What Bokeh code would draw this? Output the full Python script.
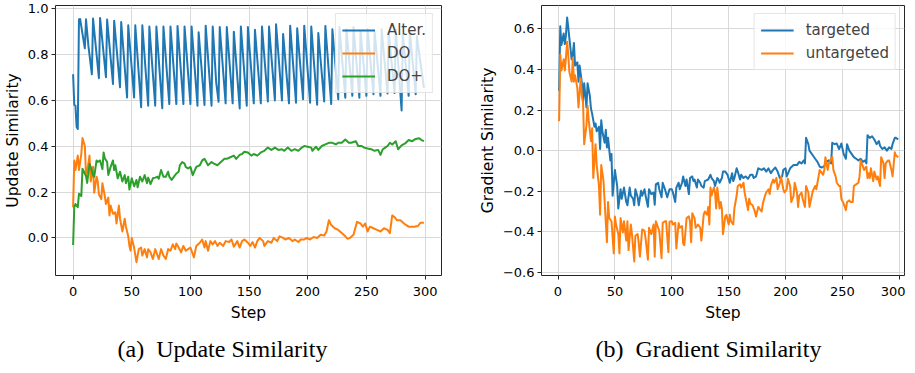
from bokeh.plotting import figure
from bokeh.models import Range1d, FixedTicker, Title, CustomJSTickFormatter
from bokeh.layouts import row
from bokeh.embed import file_html
from bokeh.resources import INLINE

# ---------------- (a) Update Similarity ----------------
alter_steps = [0, 1, 2, 3, 4, 5, 6, 8, 10, 11, 13, 16, 17, 22, 23, 28, 29, 34, 35, 40, 41,
               46, 47, 52, 53, 58, 59, 64, 65, 70, 71, 76, 77, 82, 83, 88, 89, 94, 95,
               100, 101, 106, 107, 112, 113, 118, 119, 122, 124, 125, 130, 131, 136, 137,
               142, 143, 148, 149, 154, 155, 160, 161, 166, 167, 172, 173, 178, 179,
               184, 185, 190, 191, 196, 197, 202, 203, 208, 209, 214, 215, 220, 221,
               226, 227, 232, 233, 238, 239, 244, 245, 250, 251, 256, 257, 262, 263,
               268, 269, 274, 275, 280, 281, 286, 287, 292, 293, 299]
alter_vals = [0.714, 0.58, 0.577, 0.484, 0.475, 0.953, 0.955, 0.89, 0.827, 0.954, 0.84, 0.714,
              0.957, 0.697, 0.96, 0.701, 0.953, 0.672, 0.948, 0.657, 0.942,
              0.613, 0.928, 0.613, 0.928, 0.57, 0.928, 0.577, 0.922, 0.577, 0.922,
              0.566, 0.922, 0.584, 0.922, 0.584, 0.925, 0.584, 0.922,
              0.584, 0.922, 0.577, 0.897, 0.58, 0.926, 0.577, 0.922, 0.676, 0.594, 0.92,
              0.587, 0.92, 0.587, 0.9, 0.565, 0.922, 0.577, 0.92, 0.587, 0.908,
              0.587, 0.922, 0.595, 0.922, 0.6, 0.932, 0.6, 0.89, 0.587, 0.926,
              0.59, 0.915, 0.605, 0.926, 0.59, 0.922, 0.581, 0.894, 0.595, 0.925,
              0.584, 0.91, 0.605, 0.92, 0.612, 0.91, 0.62, 0.92, 0.612, 0.9,
              0.62, 0.91, 0.627, 0.9, 0.62, 0.91, 0.63, 0.9, 0.632, 0.91,
              0.556, 0.89, 0.62, 0.9, 0.627, 0.88, 0.655]

do_steps = [0, 1, 2, 4, 5, 7, 8, 10, 11, 12, 14, 15, 17, 18, 20, 21, 22, 24, 25, 27, 28, 30,
            31, 32, 34, 36, 37, 39, 40, 42, 44, 45, 47, 48, 49, 50, 52, 54, 56, 58, 59,
            61, 63, 64, 66, 68, 70, 71, 73, 75, 77, 79, 81, 83, 85, 87, 88, 90, 92, 94,
            96, 98, 100, 103, 105, 108, 110, 112, 113, 115, 117, 119, 121, 123, 125,
            128, 130, 133, 135, 137, 140, 142, 144, 146, 149, 151, 153, 155, 157, 159,
            162, 163, 166, 169, 171, 174, 176, 179, 181, 184, 187, 189, 192, 194, 197,
            199, 202, 205, 208, 211, 214, 216, 218, 220, 223, 226, 229, 232, 234, 236,
            239, 242, 245, 247, 249, 251, 253, 256, 259, 262, 265, 268, 270, 272, 274,
            276, 279, 282, 284, 286, 288, 291, 294, 296, 299]
do_vals = [0.134, 0.338, 0.296, 0.359, 0.296, 0.366, 0.436, 0.401, 0.274, 0.289, 0.359, 0.246,
           0.31, 0.197, 0.267, 0.246, 0.19, 0.169, 0.239, 0.183, 0.148, 0.176,
           0.098, 0.141, 0.105, 0.112, 0.063, 0.141, 0.084, 0.028, 0.084, 0.049, 0.007,
           -0.035, -0.056, 0.0, -0.042, -0.106, -0.049, -0.042, -0.077,
           -0.049, -0.085, -0.049, -0.063, -0.092, -0.049, -0.063, -0.092, -0.049,
           -0.077, -0.092, -0.049, -0.056, -0.028, -0.049, -0.024, -0.042, -0.063, -0.035,
           -0.056, -0.049, -0.042, -0.085, -0.035, -0.021, -0.007, -0.042, -0.014, -0.056,
           -0.014, -0.028, -0.014, -0.035, -0.021,
           -0.035, -0.014, -0.018, -0.007, -0.038, -0.014, -0.042, -0.014, -0.007, -0.021,
           -0.035, -0.018, -0.042, -0.014, 0.0,
           -0.014, -0.035, -0.014, -0.021, 0.0, -0.014, 0.007, 0.0, -0.007, 0.0,
           -0.014, -0.007, -0.018, -0.007, -0.007,
           0.0, -0.007, 0.004, 0.0, 0.014, 0.01, 0.028, 0.077, 0.056, 0.042, 0.035,
           0.021, 0.007, -0.004, 0.0,
           0.014, 0.07, 0.063, 0.049, 0.063, 0.028, 0.049, 0.042, 0.035, 0.028, 0.042,
           0.035, 0.021, 0.098, 0.091,
           0.077, 0.077, 0.063, 0.056, 0.049, 0.049, 0.049, 0.052, 0.066, 0.066]

doplus_steps = [0, 1, 2, 4, 5, 7, 8, 10, 11, 12, 14, 15, 17, 18, 20, 21, 23, 25, 26, 27, 29,
                30, 32, 34, 35, 36, 38, 40, 42, 44, 45, 47, 48, 50, 52, 54, 55, 57, 59,
                61, 63, 64, 66, 68, 70, 72, 73, 75, 77, 79, 81, 82, 84, 86, 88, 90, 91,
                93, 95, 96, 98, 100, 102, 105, 108, 110, 112, 115, 118, 120, 123, 126,
                129, 131, 134, 137, 139, 142, 144, 146, 149, 152, 154, 157, 160, 163,
                166, 169, 172, 175, 178, 180, 183, 186, 189, 192, 195, 197, 200, 203,
                204, 207, 209, 212, 215, 218, 221, 224, 226, 229, 232, 235, 237, 241,
                243, 246, 248, 251, 254, 257, 260, 262, 264, 266, 268, 270, 272, 275,
                277, 280, 283, 286, 289, 292, 295, 297, 299]
doplus_vals = [-0.031, 0.134, 0.148, 0.134, 0.193, 0.183, 0.302, 0.28, 0.27, 0.24, 0.323,
               0.31, 0.275, 0.267, 0.338, 0.331, 0.338, 0.30, 0.373, 0.348, 0.331,
               0.275, 0.31, 0.338, 0.296, 0.317, 0.26, 0.289, 0.246, 0.274, 0.239,
               0.267, 0.211, 0.26, 0.225, 0.253, 0.221, 0.267, 0.246,
               0.274, 0.239, 0.263, 0.235, 0.26, 0.263, 0.267, 0.258, 0.296, 0.267,
               0.267, 0.289, 0.267, 0.253, 0.267, 0.281, 0.289, 0.317,
               0.331, 0.324, 0.31, 0.303, 0.31, 0.274, 0.31, 0.317, 0.338, 0.345,
               0.317, 0.331, 0.324, 0.317, 0.331,
               0.345, 0.345, 0.352, 0.359, 0.345, 0.362, 0.366, 0.376, 0.373, 0.359,
               0.366, 0.359, 0.373, 0.38,
               0.394, 0.384, 0.394, 0.384, 0.387, 0.38, 0.394, 0.38, 0.387, 0.38,
               0.394, 0.401, 0.398, 0.394,
               0.38, 0.398, 0.384, 0.401, 0.408, 0.415, 0.415, 0.408, 0.415, 0.415,
               0.429, 0.415, 0.415, 0.422,
               0.401, 0.401, 0.394, 0.39, 0.387, 0.38, 0.384, 0.362, 0.387, 0.394,
               0.401, 0.415, 0.408, 0.422,
               0.387, 0.404, 0.412, 0.427, 0.422, 0.432, 0.435, 0.427, 0.422]

# ---------------- (b) Gradient Similarity ----------------
tgt_steps = [0, 1, 2, 3, 5, 6, 7, 8, 9, 10, 12, 13, 14, 15, 17, 18, 19, 21, 22, 23, 25, 26,
             28, 29, 30, 32, 33, 34, 36, 37, 38, 39, 41, 42, 43, 44, 46, 47, 48, 50, 51,
             52, 53, 55, 56, 58, 60, 61, 63, 64, 66, 67, 68, 70, 71, 73, 74, 76, 77, 79,
             80, 82, 84, 85, 86, 88, 89, 91, 92, 94, 96, 98, 100, 101, 103, 104, 106,
             107, 109, 110, 112, 113, 115, 116, 118, 119, 120, 122, 123, 125, 126, 128,
             129, 132, 134, 135, 137, 138, 140, 141, 142, 144, 145, 147, 149, 151, 153,
             154, 155, 157, 158, 160, 161, 163, 165, 167, 169, 171, 172, 174, 176, 179,
             181, 183, 185, 187, 189, 191, 193, 195, 197, 198, 200, 201, 204, 207, 210,
             212, 214, 216, 217, 218, 220, 221, 224, 226, 228, 230, 232, 234, 236, 238,
             240, 241, 243, 245, 247, 249, 251, 253, 254, 256, 258, 260, 262, 264, 266,
             268, 270, 271, 272, 274, 276, 278, 280, 282, 283, 285, 287, 289, 291, 293,
             294, 296, 297, 299]
tgt_vals = [0.30, 0.30, 0.613, 0.52, 0.577, 0.525, 0.569, 0.656, 0.609, 0.553, 0.45, 0.474,
            0.53, 0.419, 0.435, 0.34, 0.419, 0.332, 0.245, 0.332, 0.213, 0.332,
            0.269, 0.206, 0.182, 0.118, 0.134, 0.095, 0.118, 0.008, 0.15, 0.095, 0.039,
            0.103, 0.016, 0.063, -0.048, -0.016, -0.222, -0.095, -0.135,
            -0.174, -0.285, -0.19, -0.237, -0.182, -0.253, -0.269, -0.182, -0.222,
            -0.237, -0.269, -0.19, -0.23, -0.269, -0.198, -0.222, -0.19, -0.222, -0.277,
            -0.19, -0.214, -0.206, -0.266, -0.166, -0.158, -0.19, -0.23, -0.158, -0.19,
            -0.23, -0.19, -0.19, -0.206, -0.253, -0.182, -0.158,
            -0.19, -0.158, -0.127, -0.174, -0.142, -0.214, -0.135, -0.127, -0.15, -0.142,
            -0.182, -0.142, -0.158, -0.174, -0.182,
            -0.15, -0.142, -0.119, -0.135, -0.15, -0.174, -0.135, -0.142, -0.158, -0.135,
            -0.103, -0.103, -0.119, -0.158, -0.111,
            -0.15, -0.135, -0.087, -0.103, -0.142, -0.119, -0.135, -0.127, -0.139, -0.119,
            -0.119, -0.135, -0.127, -0.087, -0.095,
            -0.087, -0.103, -0.087, -0.111, -0.095, -0.083, -0.103, -0.135, -0.127,
            -0.095, -0.087, -0.127, -0.087, -0.071, -0.071,
            -0.055, -0.063, -0.048, -0.063, 0.063, 0.032, 0.0, -0.024, -0.04, -0.055,
            -0.079, -0.083, -0.076, -0.055, -0.048,
            -0.063, 0.039, 0.032, 0.035, 0.008, 0.035, -0.016, -0.04, 0.032, 0.0, -0.016,
            -0.032, -0.04, -0.048, -0.04,
            -0.055, -0.048, -0.063, 0.076, 0.063, 0.071, 0.055, 0.032, 0.047, 0.024,
            0.008, 0.016, 0.0, 0.016, 0.008,
            0.032, 0.063, 0.063, 0.055]

untgt_steps = [0, 1, 2, 3, 5, 6, 7, 8, 9, 10, 12, 13, 14, 15, 17, 18, 20, 21, 22, 23, 25, 26,
               27, 29, 30, 31, 33, 34, 36, 37, 38, 40, 41, 43, 44, 45, 47, 49, 50, 51,
               53, 54, 55, 57, 58, 60, 61, 62, 64, 65, 67, 68, 70, 71, 72, 74, 76, 77,
               79, 80, 82, 84, 85, 86, 88, 89, 91, 92, 94, 95, 97, 98, 100, 101, 103,
               104, 106, 107, 109, 110, 111, 113, 115, 116, 117, 118, 120, 121, 123,
               125, 126, 128, 129, 131, 132, 133, 134, 135, 137, 138, 139, 140, 142,
               143, 144, 145, 147, 148, 150, 151, 152, 154, 155, 157, 158, 160, 161,
               163, 164, 167, 168, 169, 171, 173, 174, 176, 177, 179, 180, 182, 183,
               185, 186, 187, 189, 190, 192, 193, 195, 196, 198, 199, 201, 202, 204,
               205, 207, 208, 210, 211, 212, 214, 215, 217, 218, 220, 221, 223, 224,
               226, 227, 228, 230, 231, 233, 234, 235, 237, 238, 240, 241, 242, 244,
               245, 247, 248, 249, 251, 253, 254, 256, 257, 259, 260, 262, 264, 265,
               266, 268, 269, 271, 272, 273, 274, 275, 277, 278, 280, 281, 283, 284,
               286, 287, 288, 290, 291, 293, 294, 296, 297, 299]
untgt_vals = [0.15, 0.15, 0.474, 0.395, 0.45, 0.395, 0.458, 0.537, 0.474, 0.387, 0.34, 0.458,
              0.34, 0.371, 0.308, 0.213, 0.356, 0.269, 0.237, 0.032, 0.126, 0.221,
              0.15, 0.047, 0.11, -0.135, 0.032, -0.071, -0.174, -0.316, -0.071, -0.15,
              -0.253, -0.451, -0.253, -0.332, -0.348, -0.506, -0.324, -0.364,
              -0.411, -0.506, -0.332, -0.403, -0.348, -0.443, -0.348, -0.49, -0.364,
              -0.411, -0.546, -0.419, -0.411, -0.458, -0.522, -0.388, -0.395, -0.435,
              -0.537, -0.38, -0.411, -0.364, -0.522, -0.348, -0.38, -0.395, -0.53,
              -0.356, -0.348, -0.348, -0.5, -0.35, -0.348, -0.364, -0.356,
              -0.482, -0.356, -0.38, -0.372, -0.458, -0.466, -0.332, -0.324, -0.348,
              -0.451, -0.308, -0.332, -0.38, -0.364,
              -0.38, -0.443, -0.316, -0.3, -0.316, -0.277, -0.364, -0.182, -0.221,
              -0.182, -0.206, -0.285, -0.182, -0.285,
              -0.253, -0.285, -0.411, -0.324, -0.316, -0.364, -0.316, -0.348, -0.364,
              -0.285, -0.221, -0.174, -0.166, -0.182,
              -0.158, -0.206, -0.293, -0.237, -0.261, -0.269, -0.3, -0.324, -0.277,
              -0.285, -0.3, -0.261, -0.221, -0.206,
              -0.19, -0.214, -0.174, -0.142, -0.158, -0.134, -0.19, -0.158, -0.127,
              -0.19, -0.206, -0.19, -0.139, -0.174,
              -0.253, -0.222, -0.158, -0.206, -0.277, -0.222, -0.206, -0.237, -0.277,
              -0.174, -0.206, -0.277, -0.222, -0.198,
              -0.174, -0.19, -0.158, -0.095, -0.103, -0.119, -0.095, -0.032, -0.095,
              -0.063, -0.04, -0.032, -0.095, -0.127,
              -0.158, -0.174, -0.174, -0.237, -0.261, -0.293, -0.253, -0.245, -0.253,
              -0.253, -0.174, -0.166, -0.158, -0.127,
              -0.048, -0.079, -0.095, -0.079, -0.135, -0.111, -0.135, -0.087, -0.15,
              -0.103, -0.142, -0.127, -0.174, -0.032,
              -0.063, -0.135, -0.063, -0.048, -0.048, -0.095, -0.127, -0.008, -0.024, -0.032]

step_ticks = [0, 50, 100, 150, 200, 250, 300]
upd_ticks = [0.0, 0.2, 0.4, 0.6, 0.8, 1.0]
grad_ticks = [-0.6, -0.4, -0.2, 0.0, 0.2, 0.4, 0.6]

BLUE, ORANGE, GREEN = "#1f77b4", "#ff7f0e", "#2ca02c"
FONT = "DejaVu Sans"

fmt = CustomJSTickFormatter(code="return tick.toFixed(1).replace('-', '\u2212');")


def make_fig(xr, yr, yticks, ylabel, fw, fh, left, right):
    p = figure(frame_width=fw, frame_height=fh, x_range=xr, y_range=yr,
               min_border_left=left, min_border_right=right, min_border_top=5,
               min_border_bottom=0, output_backend="svg", toolbar_location=None,
               background_fill_color="white", border_fill_color="white")
    p.outline_line_color = "#262626"
    p.outline_line_width = 1
    p.outline_line_alpha = 1
    p.xaxis.ticker = FixedTicker(ticks=step_ticks)
    p.yaxis.ticker = FixedTicker(ticks=yticks)
    p.yaxis.formatter = fmt
    p.xaxis.axis_label = "Step"
    p.yaxis.axis_label = ylabel
    for ax in (p.xaxis, p.yaxis):
        ax.axis_line_color = None
        ax.major_tick_out = 4
        ax.major_tick_in = 0
        ax.minor_tick_line_color = None
        ax.major_tick_line_color = "#262626"
        ax.major_label_standoff = 3
        ax.axis_label_standoff = 3
        ax.major_label_text_font = FONT
        ax.major_label_text_font_size = "13px"
        ax.major_label_text_color = "black"
        ax.axis_label_text_font = FONT
        ax.axis_label_text_font_size = "15.5px"
        ax.axis_label_text_font_style = "normal"
        ax.axis_label_text_color = "black"
    p.xaxis.major_label_standoff = 7
    p.xaxis.axis_label_standoff = 5
    p.grid.grid_line_color = "#d9d9d9"
    p.grid.grid_line_width = 1
    return p


def style_legend(p):
    lg = p.legend[0]
    lg.location = "top_right"
    lg.margin = 8
    lg.padding = 6
    lg.spacing = 3
    lg.label_height = 20
    lg.glyph_height = 20
    lg.glyph_width = 33
    lg.label_standoff = 12
    lg.label_text_font = FONT
    lg.label_text_font_size = "15px"
    lg.border_line_color = "#cccccc"
    lg.border_line_width = 1
    lg.background_fill_alpha = 0.8


p1 = make_fig(Range1d(-15, 314), Range1d(-0.164, 1.014), upd_ticks, "Update Similarity",
              386, 270, 49, 25)
p1.line(alter_steps, alter_vals, color=BLUE, line_width=2, line_join="round", legend_label="Alter.")
p1.line(do_steps, do_vals, color=ORANGE, line_width=2, line_join="round", legend_label="DO")
p1.line(doplus_steps, doplus_vals, color=GREEN, line_width=2, line_join="round", legend_label="DO+")
style_legend(p1)
p1.add_layout(Title(text="(a)\u00a0 Update Similarity", align="left", offset=62,
                    text_font="Liberation Serif", text_font_size="24px",
                    text_font_style="normal", text_color="black", standoff=18), "below")

p2 = make_fig(Range1d(-14.5, 304.5), Range1d(-0.615, 0.715), grad_ticks, "Gradient Similarity",
              363, 270, 75, 1)
p2.line(tgt_steps, tgt_vals, color=BLUE, line_width=2, line_join="round", legend_label="targeted")
p2.line(untgt_steps, untgt_vals, color=ORANGE, line_width=2, line_join="round", legend_label="untargeted")
style_legend(p2)
p2.add_layout(Title(text="(b)\u00a0 Gradient Similarity", align="left", offset=54,
                    text_font="Liberation Serif", text_font_size="24px",
                    text_font_style="normal", text_color="black", standoff=18), "below")

layout = row(p1, p2)
open("out.html", "w").write(file_html(layout, INLINE))
